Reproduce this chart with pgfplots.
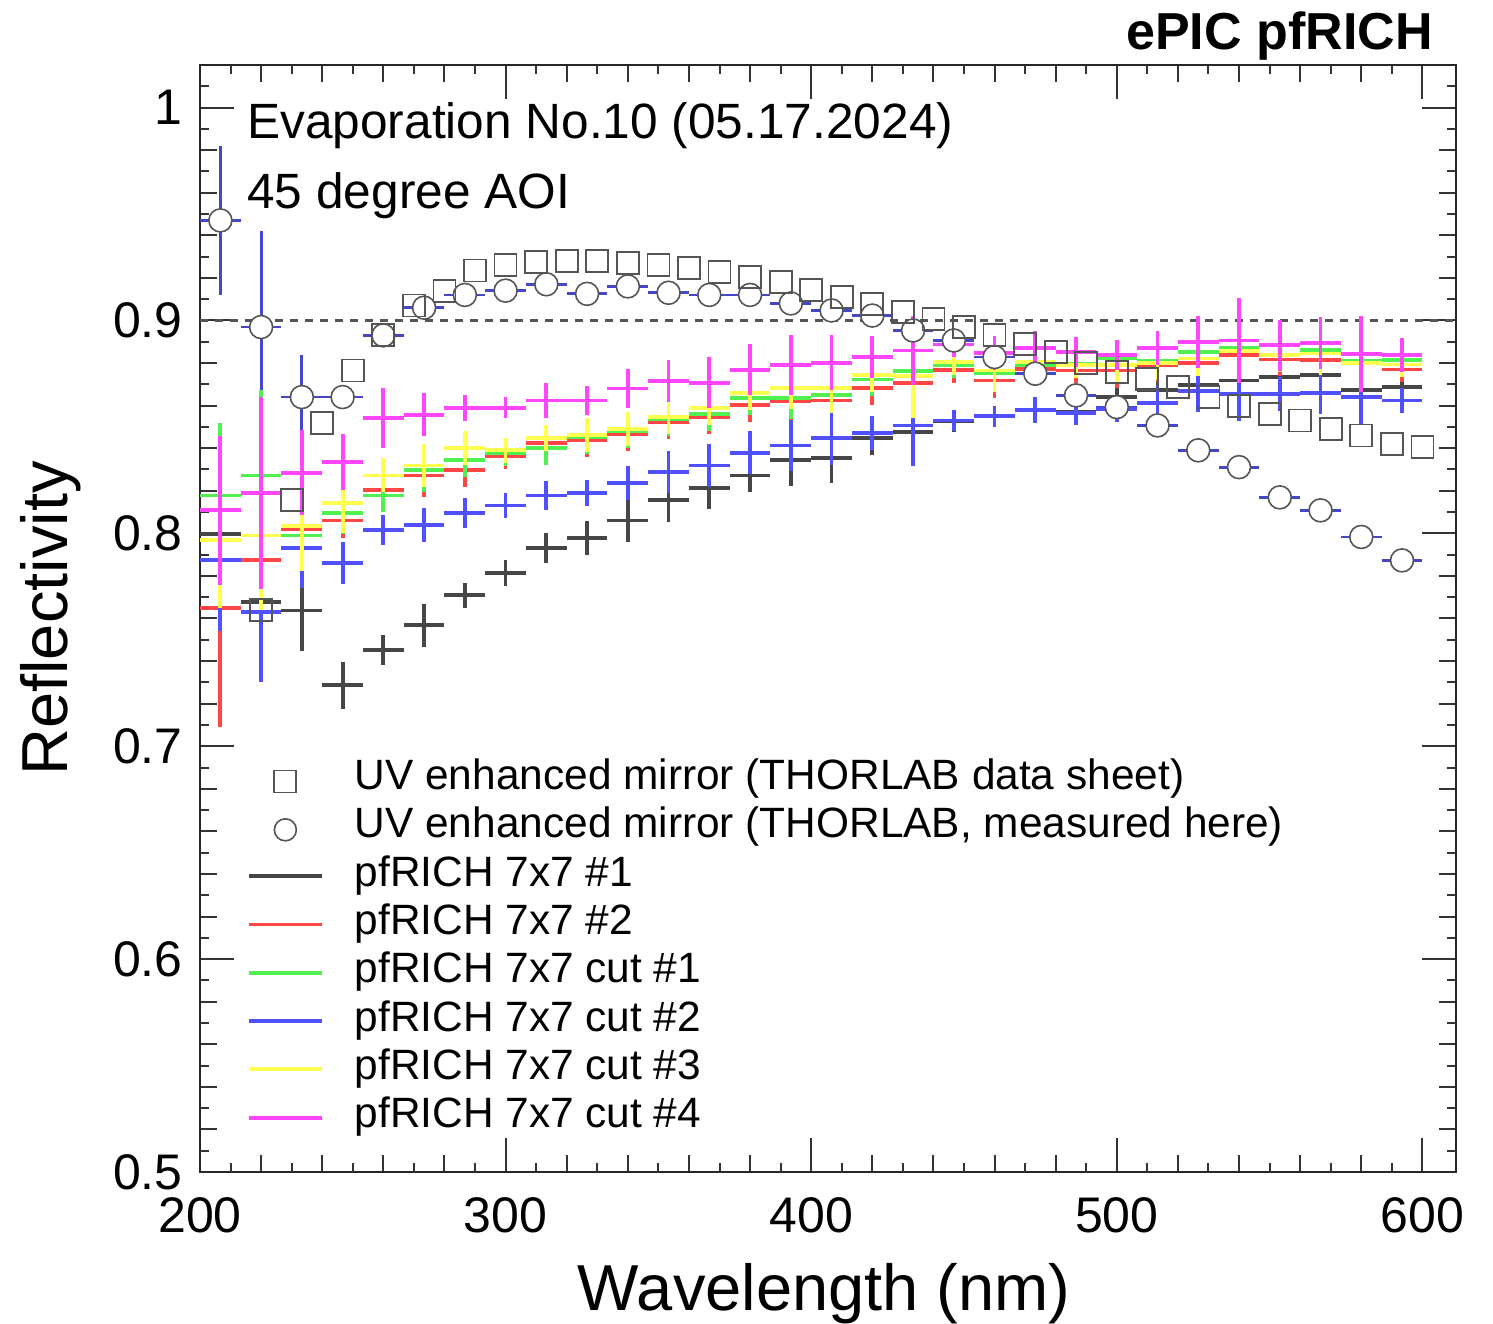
\documentclass[border=0pt]{standalone}
\usepackage{fontspec}
\setmainfont{Liberation Sans}
\usepackage{pgfplots}
\pgfplotsset{compat=1.18}
\usepackage{pgfplotstable}

\definecolor{cblack}{RGB}{70,70,70}
\definecolor{cred}{RGB}{255,70,70}
\definecolor{cgreen}{RGB}{80,240,80}
\definecolor{cblue}{RGB}{80,80,255}
\definecolor{cyellow}{RGB}{255,255,80}
\definecolor{cmagenta}{RGB}{255,70,255}
\definecolor{cblue2}{RGB}{70,70,200}
\definecolor{mgray}{RGB}{85,85,85}

\pgfplotsset{
  lineleg/.style={legend image code/.code={\draw[##1] (0pt,0pt) -- (36.5pt,0pt);}},
  markleg/.style={legend image code/.code={\draw[mark repeat=2, mark phase=2, ##1] plot coordinates {(0pt,-1pt) (18.25pt,-1pt) (36.5pt,-1pt)};}},
  hist/.style={forget plot, draw=none, mark=none, error bars/.cd, x dir=both, x fixed=6.6667, y dir=both, y explicit, error mark=none,
    error bar style={line width=1.9pt, draw=#1}},
}

\pgfplotstableread{
x kb kbe r re g ge bl ble yl yle m me c ce
206.667 0.7998 0.03 0.765 0.056 0.8178 0.034 0.7873 0.033 0.797 0.032 0.8108 0.035 0.947 0.035
220.000 0.7678 0.03 0.7873 0.03 0.8272 0.04 0.763 0.033 0.799 0.035 0.819 0.045 0.8969 0.045
233.333 0.7638 0.019 0.802 0.02 0.799 0.02 0.7931 0.019 0.8035 0.021 0.8285 0.02 0.864 0.02
246.667 0.7286 0.011 0.806 0.008 0.8097 0.01 0.786 0.01 0.8143 0.014 0.8335 0.013 0.864 0.003
260.000 0.7451 0.007 0.8202 0.008 0.8178 0.008 0.8014 0.007 0.8272 0.008 0.8543 0.014 0.893 0.003
273.333 0.7568 0.01 0.8272 0.01 0.8296 0.01 0.8038 0.008 0.8319 0.01 0.8557 0.01 0.906 0.003
286.667 0.7709 0.006 0.8296 0.008 0.8343 0.008 0.8097 0.007 0.840 0.008 0.859 0.006 0.912 0.003
300.000 0.7815 0.006 0.8361 0.006 0.8378 0.006 0.8131 0.006 0.839 0.006 0.859 0.005 0.914 0.003
313.333 0.7931 0.007 0.8426 0.006 0.8402 0.008 0.8178 0.007 0.8449 0.006 0.8624 0.008 0.917 0.003
326.667 0.798 0.008 0.844 0.008 0.8453 0.008 0.819 0.006 0.8463 0.008 0.8624 0.007 0.9125 0.003
340.000 0.806 0.01 0.8467 0.008 0.848 0.008 0.8238 0.008 0.8492 0.008 0.868 0.009 0.916 0.003
353.333 0.8155 0.01 0.8523 0.008 0.8535 0.008 0.8288 0.01 0.8547 0.008 0.8716 0.01 0.913 0.003
366.667 0.8214 0.01 0.8546 0.008 0.8562 0.008 0.8319 0.01 0.859 0.008 0.8707 0.012 0.912 0.003
380.000 0.8272 0.008 0.8601 0.008 0.8637 0.008 0.8379 0.01 0.8659 0.008 0.8768 0.012 0.912 0.003
393.333 0.8343 0.012 0.862 0.01 0.8637 0.01 0.8413 0.012 0.8684 0.01 0.8792 0.014 0.908 0.003
406.667 0.8355 0.012 0.8624 0.01 0.865 0.01 0.8449 0.013 0.8684 0.012 0.8801 0.013 0.9047 0.003
420.000 0.8449 0.008 0.8684 0.008 0.8723 0.008 0.8473 0.008 0.8742 0.008 0.8828 0.01 0.9023 0.003
433.333 0.8476 0.008 0.8707 0.01 0.8762 0.01 0.8507 0.019 0.874 0.02 0.8859 0.016 0.8953 0.003
446.667 0.8525 0.005 0.8768 0.006 0.8789 0.006 0.853 0.005 0.8804 0.006 0.8887 0.006 0.8906 0.003
460.000 0.855 0.005 0.8718 0.008 0.8753 0.008 0.855 0.005 0.8765 0.01 0.8849 0.008 0.8828 0.003
473.333 0.858 0.006 0.8771 0.008 0.879 0.008 0.858 0.006 0.8804 0.008 0.8871 0.008 0.875 0.003
486.667 0.857 0.006 0.8765 0.006 0.8797 0.006 0.8567 0.006 0.879 0.006 0.8851 0.007 0.8648 0.003
500.000 0.864 0.006 0.8765 0.008 0.8825 0.008 0.8585 0.006 0.879 0.008 0.8836 0.007 0.8593 0.003
513.333 0.8675 0.01 0.879 0.008 0.8812 0.008 0.8612 0.008 0.880 0.008 0.8872 0.008 0.8507 0.003
526.667 0.8695 0.01 0.8801 0.008 0.8851 0.008 0.8669 0.01 0.8821 0.008 0.8899 0.012 0.839 0.003
540.000 0.8718 0.015 0.8839 0.01 0.887 0.01 0.8656 0.013 0.8855 0.012 0.8906 0.02 0.8311 0.003
553.333 0.8734 0.012 0.8817 0.008 0.8836 0.008 0.8653 0.008 0.8836 0.008 0.8883 0.012 0.8169 0.003
566.667 0.8742 0.01 0.8815 0.008 0.8863 0.008 0.866 0.01 0.8845 0.01 0.8894 0.012 0.8108 0.003
580.000 0.8675 0.01 0.8804 0.008 0.8812 0.008 0.864 0.013 0.880 0.012 0.8843 0.018 0.7983 0.003
593.333 0.8687 0.005 0.877 0.006 0.8816 0.006 0.8624 0.006 0.8793 0.006 0.8836 0.008 0.7873 0.003
}\hist

\pgfplotstableread{
x s
220 0.764
230 0.8155
240 0.852
250 0.8765
260 0.893
270 0.907
280 0.914
290 0.9235
300 0.926
310 0.9274
320 0.928
330 0.928
340 0.927
350 0.926
360 0.9245
370 0.9227
380 0.9204
390 0.918
400 0.9144
410 0.911
420 0.9078
430 0.9039
440 0.9008
450 0.897
460 0.893
470 0.889
480 0.885
490 0.8800
500 0.8757
510 0.8726
520 0.8687
530 0.864
540 0.860
550 0.8562
560 0.853
570 0.849
580 0.846
590 0.842
600 0.8405
}\sheet

\begin{document}
\begin{tikzpicture}
\useasboundingbox (-100pt,-75.5pt) rectangle (646.5pt,586pt);
\begin{axis}[
  at={(0pt,0pt)}, anchor=south west,
  width=628pt, height=553.5pt, scale only axis,
  xmin=200, xmax=611, ymin=0.5, ymax=1.02,
  clip=false,
  xtick={200,300,400,500,600},
  ytick={0.5,0.6,0.7,0.8,0.9,1.0},
  minor x tick num=4, minor y tick num=4,
  extra x ticks={210,230,250,270,290,310,330,350,370,390,410,430,450,470,490,510,530,550,570,590},
  extra y ticks={0.51,0.53,0.55,0.57,0.59,0.61,0.63,0.65,0.67,0.69,0.71,0.73,0.75,0.77,0.79,0.81,0.83,0.85,0.87,0.89,0.91,0.93,0.95,0.97,0.99,1.01},
  extra x tick labels={}, extra y tick labels={},
  extra x tick style={major tick length=4.5pt},
  extra y tick style={major tick length=4.5pt},
  major tick length=17pt, minor tick length=8.5pt,
  tick align=inside,
  axis line style={line width=1pt, black!85},
  every tick/.style={line width=1pt, black!80},
  /pgf/number format/assume math mode=true,
  tick label style={font=\fontsize{25}{25}\selectfont},
  xticklabel style={inner sep=0pt, yshift=-12.5pt},
  yticklabel style={inner sep=0pt, xshift=-8.5pt},
  xlabel={Wavelength (nm)}, ylabel={Reflectivity},
  every axis x label/.style={at={(axis description cs:0.497,-0.1247)}, anchor=base, inner sep=0pt, font=\fontsize{32.5}{32.5}\selectfont},
  every axis y label/.style={at={(axis description cs:-0.1051,0.5)}, rotate=90, anchor=base, inner sep=0pt, font=\fontsize{32.5}{32.5}\selectfont},
  legend style={at={(axis description cs:0.0374,0.3726)}, anchor=north west, draw=none, fill=none, inner sep=0pt, outer sep=0pt, row sep=4.15pt, column sep=15.5pt, font=\fontsize{21.2}{21.2}\selectfont, nodes={inner sep=0pt, text height=15pt, text depth=5pt}},
  legend cell align=left,
]
% reference line
\addplot[forget plot, draw=mgray, line width=1.2pt, dash pattern=on 4pt off 3.5pt] coordinates {(200,0.9) (611,0.9)};
% measured mirror
\addplot[forget plot, only marks, mark=*, mark size=5.75pt, mark options={fill=white, draw=mgray, line width=0.8pt},
  error bars/.cd, x dir=both, x fixed=6.6667, y dir=both, y explicit, error mark=none,
  error bar style={line width=1.4pt, draw=cblue2}] table[x=x, y=c, y error=ce] {\hist};
% pfRICH series
\addplot[hist=cblack] table[x=x, y=kb, y error=kbe] {\hist};
\addplot[hist=cred] table[x=x, y=r, y error=re] {\hist};
\addplot[hist=cgreen] table[x=x, y=g, y error=ge] {\hist};
\addplot[hist=cblue] table[x=x, y=bl, y error=ble] {\hist};
\addplot[hist=cyellow] table[x=x, y=yl, y error=yle] {\hist};
\addplot[hist=cmagenta] table[x=x, y=m, y error=me] {\hist};
% data sheet
\addplot[forget plot, only marks, mark=square, mark size=5.5pt, mark options={draw=mgray, line width=0.9pt}] table[x=x, y=s] {\sheet};

% legend
\addlegendimage{markleg, only marks, mark=square, mark size=5.5pt, mark options={draw=mgray, line width=0.9pt}}
\addlegendentry{UV enhanced mirror (THORLAB data sheet)}
\addlegendimage{markleg, only marks, mark=*, mark size=5.5pt, mark options={fill=white, draw=mgray, line width=0.8pt}}
\addlegendentry{UV enhanced mirror (THORLAB, measured here)}
\addlegendimage{lineleg, draw=cblack, line width=1.9pt}
\addlegendentry{pfRICH 7x7 \#1}
\addlegendimage{lineleg, draw=cred, line width=1.9pt}
\addlegendentry{pfRICH 7x7 \#2}
\addlegendimage{lineleg, draw=cgreen, line width=1.9pt}
\addlegendentry{pfRICH 7x7 cut \#1}
\addlegendimage{lineleg, draw=cblue, line width=1.9pt}
\addlegendentry{pfRICH 7x7 cut \#2}
\addlegendimage{lineleg, draw=cyellow, line width=1.9pt}
\addlegendentry{pfRICH 7x7 cut \#3}
\addlegendimage{lineleg, draw=cmagenta, line width=1.9pt}
\addlegendentry{pfRICH 7x7 cut \#4}

\node[anchor=base east, inner sep=0pt, font=\fontsize{26}{26}\selectfont\bfseries] at (axis description cs:0.9817,1.0136) {ePIC pfRICH};
\node[anchor=base west, inner sep=0pt, font=\fontsize{24.8}{24.8}\selectfont] at (axis description cs:0.0374,0.934) {Evaporation No.10 (05.17.2024)};
\node[anchor=base west, inner sep=0pt, font=\fontsize{24.8}{24.8}\selectfont] at (axis description cs:0.0374,0.8708) {45 degree AOI};
\end{axis}
\end{tikzpicture}
\end{document}
